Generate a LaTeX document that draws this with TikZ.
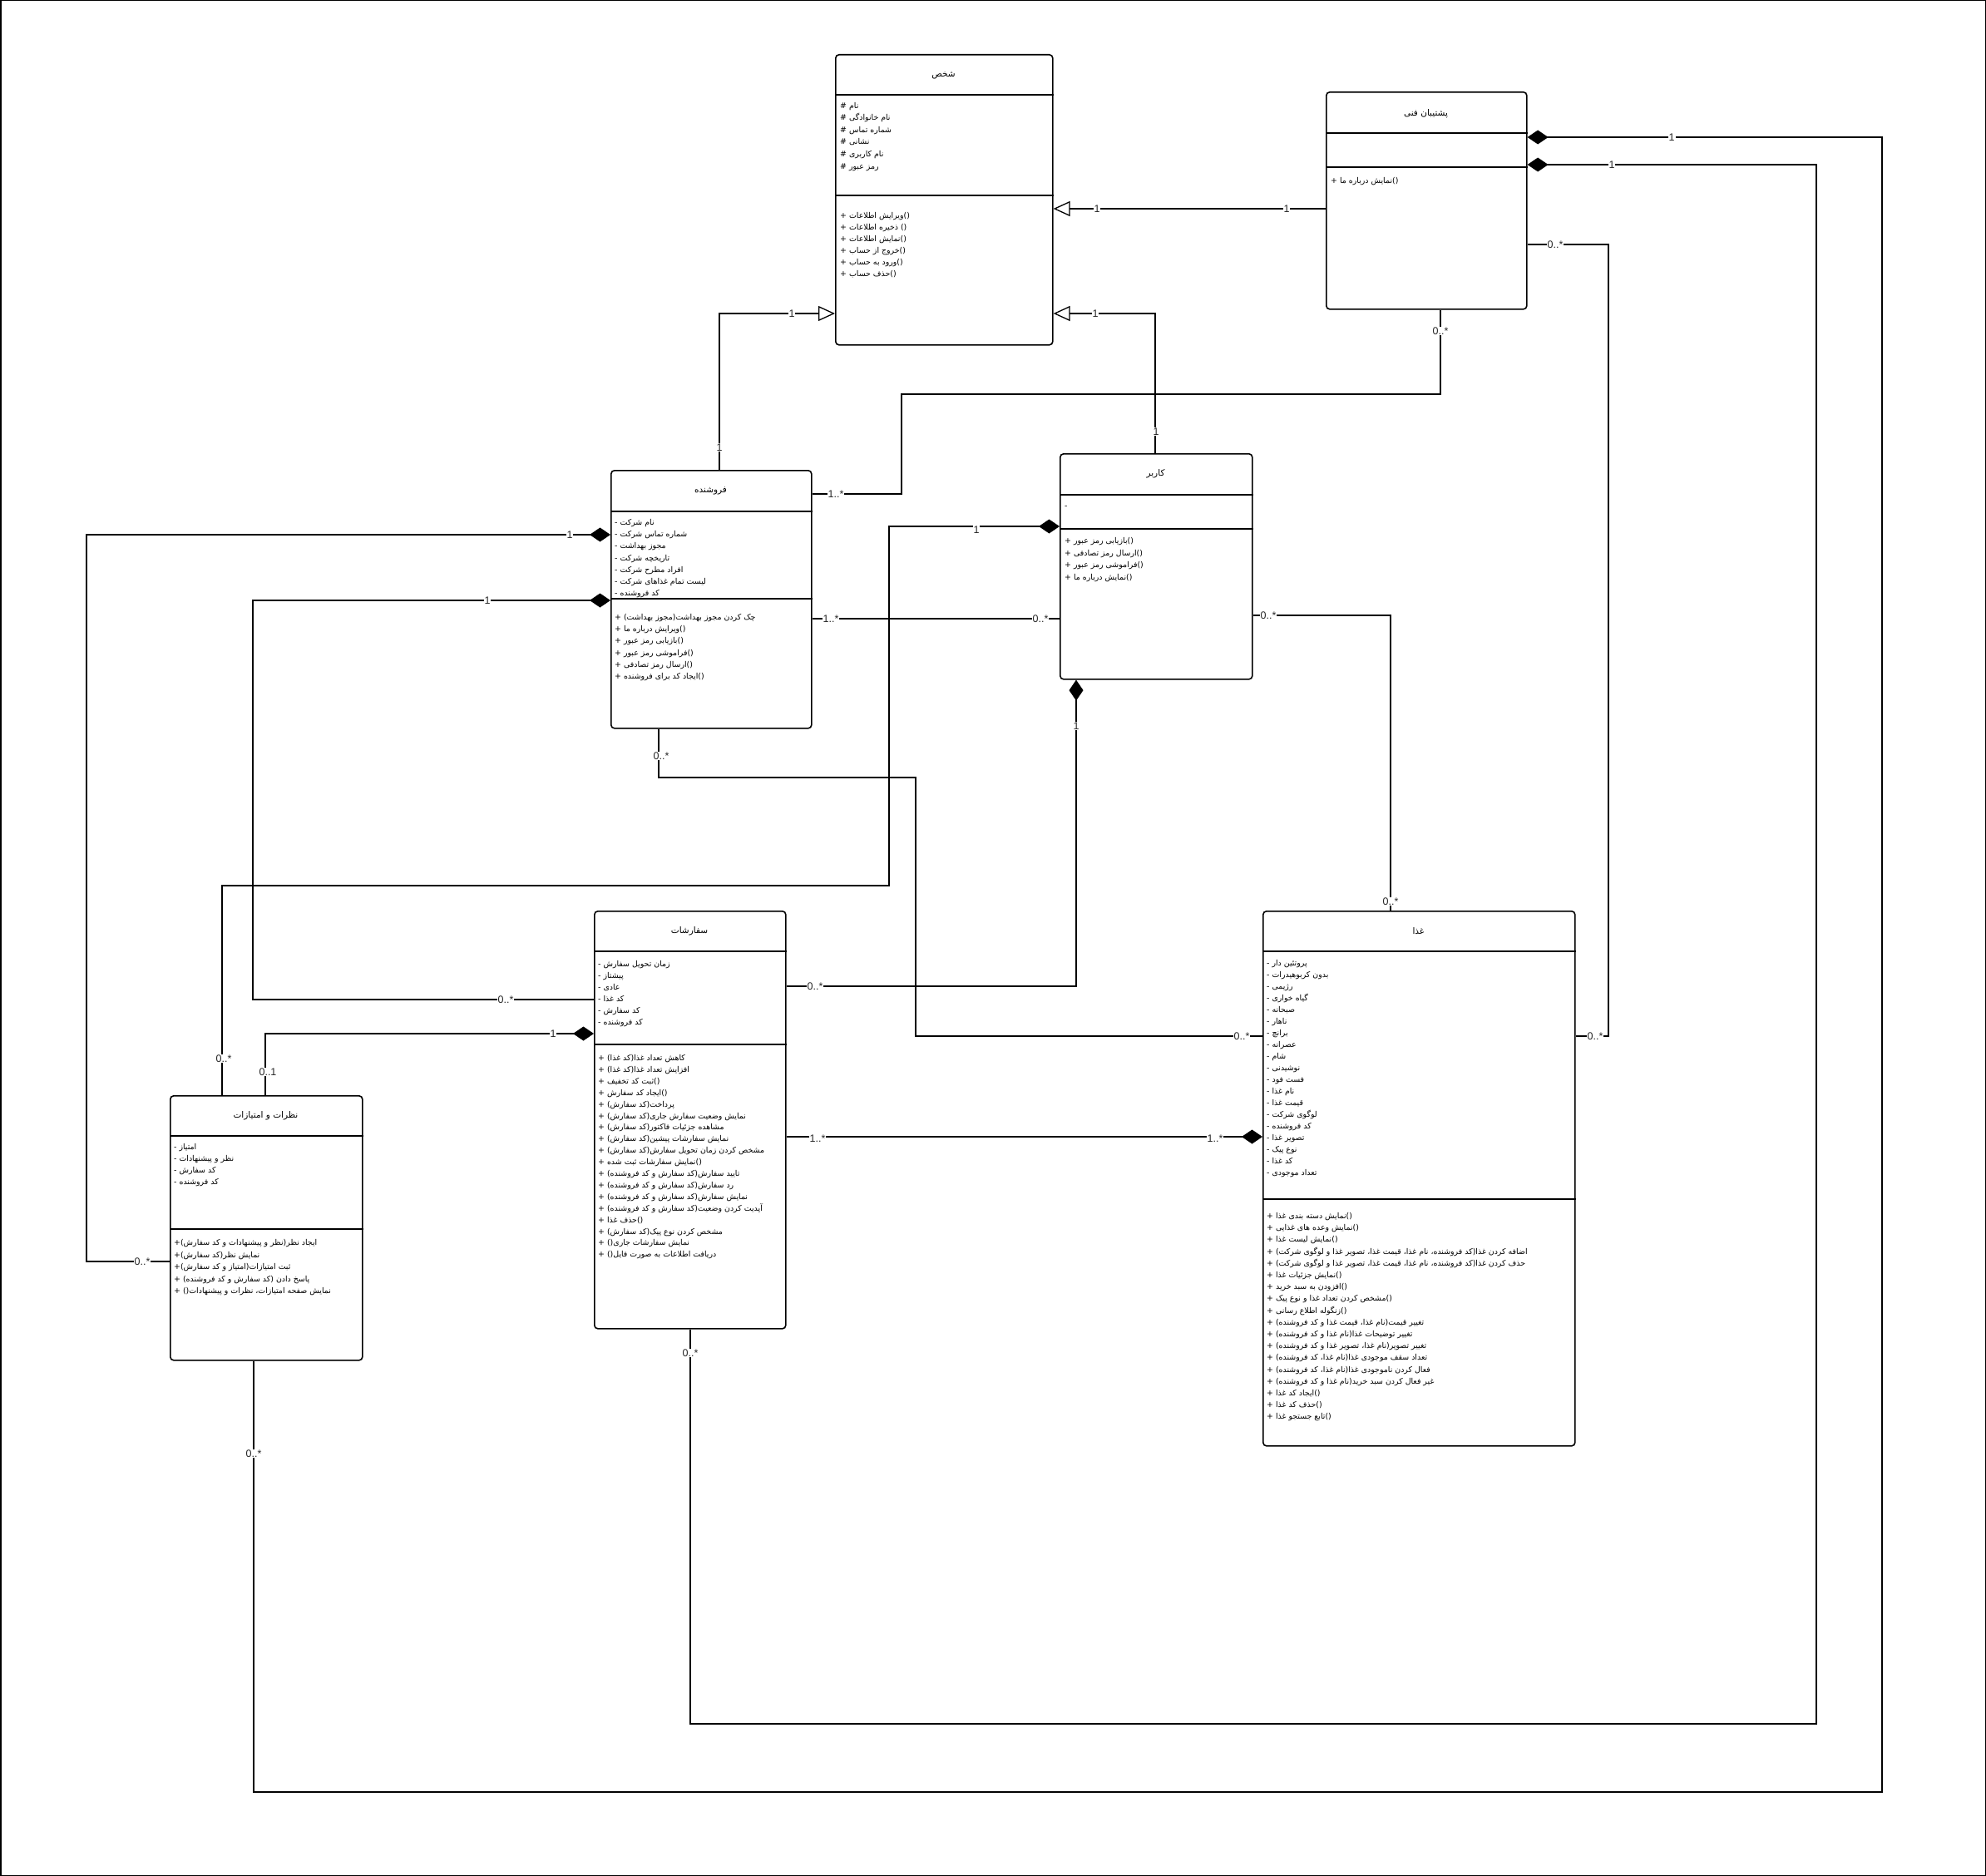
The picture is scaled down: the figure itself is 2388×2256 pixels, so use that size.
\documentclass[tikz,border=0pt]{standalone}
\usepackage{fontspec}
\setmainfont{Liberation Sans}
\newfontfamily\persianfont[Script=Arabic]{DejaVu Sans}
\TeXXeTstate=1
\usetikzlibrary{arrows.meta}
% one node per text row: name prefix, x, first y, step, rows
\newcommand\rowlist[5]{\foreach \txt [count=\i] in {#5}{\node[row] (#1-\i) at (#2,{#3+(\i-1)*(#4)}) {\txt};}}
\tikzset{
  classbox/.style={draw, line width=1.6pt, rounded corners=4pt, inner sep=0pt, anchor=north west},
  sepline/.style={line width=1.6pt},
  title/.style={font=\persianfont\fontsize{10.5}{12}\selectfont, inner sep=0pt},
  row/.style={font=\persianfont\fontsize{9.4}{11}\selectfont, anchor=west, inner sep=0pt, text height=7pt, text depth=2pt},
  assoc/.style={line width=1.3pt},
  comp/.style={assoc, {Diamond[length=25pt,width=17pt]}-},
  compend/.style={assoc, -{Diamond[length=25pt,width=17pt]}},
  gen/.style={assoc, -{Triangle[open, length=20pt, width=18pt, fill=white]}},
  mult/.style={font=\fontsize{12.5}{14}\selectfont, fill=white, inner sep=1pt, text=black!85},
}
\begin{document}
\begin{tikzpicture}[x=1pt,y=-1pt]
\fill[white] (0,0) rectangle (2388,2256);
\useasboundingbox (0,0) rectangle (2388,2256);
\draw[line width=1.5pt] (0.75,0.75) rectangle (2387.25,2255.25);

% ---------- classes ----------
\node[classbox, minimum width=261pt, minimum height=349pt] (person) at (1004,65) {};
\draw[sepline] (person.west |- 0,114) -- (person.east |- 0,114);
\draw[sepline] (person.west |- 0,235) -- (person.east |- 0,235);
\node[title] (t-person) at (1134.5,91) {\beginR شخص\endR};
\rowlist{pa}{1010}{128}{14.5}{\beginR نام \#\endR, \beginR نام خانوادگی \#\endR, \beginR شماره تماس \#\endR, \beginR نشانی \#\endR, \beginR نام کاربری \#\endR, \beginR رمز عبور \#\endR}
\rowlist{pm}{1010}{260}{14}{\beginR ()ویرایش اطلاعات +\endR, \beginR () ذخیره اطلاعات +\endR, \beginR ()نمایش اطلاعات +\endR, \beginR ()خروج از حساب +\endR, \beginR ()ورود به حساب +\endR, \beginR ()حذف حساب +\endR}

\node[classbox, minimum width=241pt, minimum height=261pt] (support) at (1594,110) {};
\draw[sepline] (support.west |- 0,160) -- (support.east |- 0,160);
\draw[sepline] (support.west |- 0,201) -- (support.east |- 0,201);
\node[title] (t-support) at (1714.5,137) {\beginR پشتیبان فنی\endR};
\rowlist{sm}{1600}{218}{14}{\beginR ()نمایش درباره ما +\endR}

\node[classbox, minimum width=241pt, minimum height=310pt] (seller) at (734,565) {};
\draw[sepline] (seller.west |- 0,615) -- (seller.east |- 0,615);
\node[title] (t-seller) at (854.5,590) {\beginR فروشنده\endR};
\rowlist{sa}{739}{629}{14.2}{\beginR نام شرکت -\endR, \beginR شماره تماس شرکت -\endR, \beginR مجوز بهداشت -\endR, \beginR تاریخچه شرکت -\endR, \beginR افراد مطرح شرکت -\endR, \beginR لیست تمام غذاهای شرکت -\endR, \beginR کد فروشنده -\endR}
\draw[sepline] (seller.west |- 0,720) -- (seller.east |- 0,720);
\rowlist{smm}{739}{743}{14.2}{\beginR چک کردن مجوز بهداشت(مجوز بهداشت) +\endR, \beginR ()ویرایش درباره ما +\endR, \beginR ()بازیابی رمز عبور +\endR, \beginR ()فراموشی رمز عبور +\endR, \beginR ()ارسال رمز تصادفی +\endR, \beginR ()ایجاد کد برای فروشنده +\endR}

\node[classbox, minimum width=231pt, minimum height=271pt] (user) at (1274,545) {};
\draw[sepline] (user.west |- 0,595) -- (user.east |- 0,595);
\draw[sepline] (user.west |- 0,636) -- (user.east |- 0,636);
\node[title] (t-user) at (1389.5,570) {\beginR کاربر\endR};
\node[row] (ua-1) at (1280,609) {-};
\rowlist{um}{1280}{651}{14.5}{\beginR ()بازیابی رمز عبور +\endR, \beginR ()ارسال رمز تصادفی +\endR, \beginR ()فراموشی رمز عبور +\endR, \beginR ()نمایش درباره ما +\endR}

\node[classbox, minimum width=230pt, minimum height=502pt] (orders) at (714,1095) {};
\draw[sepline] (orders.west |- 0,1144) -- (orders.east |- 0,1144);
\draw[sepline] (orders.west |- 0,1256) -- (orders.east |- 0,1256);
\node[title] (t-orders) at (829,1120) {\beginR سفارشات\endR};
\rowlist{oa}{719}{1160}{14}{\beginR زمان تحویل سفارش -\endR, \beginR پیشتاز -\endR, \beginR عادی -\endR, \beginR کد غذا -\endR, \beginR کد سفارش -\endR, \beginR کد فروشنده -\endR}
\rowlist{om}{719}{1273}{13.9}{\beginR کاهش تعداد غذا(کد غذا) +\endR, \beginR افزایش تعداد غذا(کد غذا) +\endR, \beginR ()ثبت کد تخفیف +\endR, \beginR ()ایجاد کد سفارش +\endR, \beginR پرداخت(کد سفارش) +\endR, \beginR نمایش وضعیت سفارش جاری(کد سفارش)  +\endR, \beginR مشاهده جزئیات فاکتور(کد سفارش) +\endR, \beginR نمایش سفارشات پیشین(کد سفارش) +\endR, \beginR مشخص کردن زمان تحویل سفارش(کد سفارش) +\endR, \beginR ()نمایش سفارشات ثبت شده +\endR, \beginR تایید سفارش(کد سفارش و کد فروشنده) +\endR, \beginR رد سفارش(کد سفارش و کد فروشنده) +\endR, \beginR نمایش سفارش(کد سفارش و کد فروشنده) +\endR, \beginR آپدیت کردن وضعیت(کد سفارش و کد فروشنده) +\endR, \beginR ()حذف غذا +\endR, \beginR مشخص کردن نوع پیک(کد سفارش) +\endR, \beginR نمایش سفارشات جاری() +\endR, \beginR دریافت اطلاعات به صورت فایل() +\endR}

\node[classbox, minimum width=375pt, minimum height=643pt] (food) at (1518,1095) {};
\draw[sepline] (food.west |- 0,1144) -- (food.east |- 0,1144);
\draw[sepline] (food.west |- 0,1442) -- (food.east |- 0,1442);
\node[title] (t-food) at (1705.5,1120) {\beginR غذا\endR};
\rowlist{fa}{1523}{1159}{14}{\beginR پروتئین دار -\endR, \beginR بدون کربوهیدرات -\endR, \beginR رژیمی -\endR, \beginR گیاه خواری -\endR, \beginR صبحانه -\endR, \beginR ناهار -\endR, \beginR برانچ -\endR, \beginR عصرانه -\endR, \beginR شام -\endR, \beginR نوشیدنی -\endR, \beginR فست فود -\endR, \beginR نام غذا -\endR, \beginR قیمت غذا -\endR, \beginR لوگوی شرکت -\endR, \beginR کد فروشنده -\endR, \beginR تصویر غذا -\endR, \beginR نوع پیک -\endR, \beginR کد غذا -\endR, \beginR تعداد موجودی -\endR}
\rowlist{fm}{1523}{1463}{14.2}{\beginR ()نمایش دسته بندی غذا +\endR, \beginR ()نمایش وعده های غذایی +\endR, \beginR ()نمایش لیست غذا +\endR, \beginR اضافه کردن غذا(کد فروشنده، نام غذا، قیمت غذا، تصویر غذا و لوگوی شرکت) +\endR, \beginR حذف کردن غذا(کد فروشنده، نام غذا، قیمت غذا، تصویر غذا و لوگوی شرکت) +\endR, \beginR ()نمایش جزئیات غذا +\endR, \beginR ()افزودن به سبد خرید +\endR, \beginR ()مشخص کردن تعداد غذا و نوع پیک +\endR, \beginR ()زنگوله اطلاع رسانی +\endR, \beginR تغییر قیمت(نام غذا، قیمت غذا و کد فروشنده) +\endR, \beginR تغییر توضیحات غذا(نام غذا و کد فروشنده) +\endR, \beginR تغییر تصویر(نام غذا، تصویر غذا و کد فروشنده) +\endR, \beginR تعداد سقف موجودی غذا(نام غذا، کد فروشنده) +\endR, \beginR فعال کردن ناموجودی غذا(نام غذا، کد فروشنده) +\endR, \beginR غیر فعال کردن سبد خرید(نام غذا و کد فروشنده) +\endR, \beginR ()ایجاد کد غذا +\endR, \beginR ()حذف کد غذا +\endR, \beginR ()تابع جستجو غذا +\endR}

\node[classbox, minimum width=231pt, minimum height=318pt] (feedback) at (204,1317) {};
\draw[sepline] (feedback.west |- 0,1366) -- (feedback.east |- 0,1366);
\draw[sepline] (feedback.west |- 0,1478) -- (feedback.east |- 0,1478);
\node[title] (t-feedback) at (319.5,1342) {\beginR نظرات و امتیازات\endR};
\rowlist{ra}{209}{1380}{14}{\beginR امتیاز -\endR, \beginR نظر و پیشنهادات -\endR, \beginR کد سفارش -\endR, \beginR کد فروشنده -\endR}
\rowlist{rm}{209}{1495}{14.5}{\beginR ایجاد نظر(نظر و پیشنهادات و کد سفارش)+\endR, \beginR نمایش نظر(کد سفارش)+\endR, \beginR ثبت امتیازات(امتیاز و کد سفارش)+\endR, \beginR پاسخ دادن (کد سفارش و کد فروشنده) +\endR, \beginR نمایش صفحه امتیازات، نظرات و پیشنهادات() +\endR}

% ---------- generalizations ----------
\draw[gen] (support.west |- 0,251) -- (person.east |- 0,251);
\draw[gen] (seller.north -| 865,0) |- (person.west |- 0,377);
\draw[gen] (user.north -| 1389,0) |- (person.east |- 0,377);

% ---------- associations ----------
\draw[assoc] (support.south -| 1732,0) |- (1084,474) |- (seller.east |- 0,594);
\draw[assoc] (seller.east |- 0,744) -- (user.west |- 0,744);
\draw[assoc] (user.east |- 0,740) -| (food.north -| 1672,0);
\draw[assoc] (support.east |- 0,294) -| (1934,1246) -- (food.east |- 0,1246);
\draw[assoc] (seller.south -| 792,0) |- (1101,935) |- (food.west |- 0,1246);

% ---------- compositions ----------
\draw[comp] (support.east |- 0,165) -- (2263,165) |- (305,2155) -- (feedback.south -| 305,0);
\draw[comp] (support.east |- 0,198) -- (2184,198) |- (830,2073) -- (orders.south -| 830,0);
\draw[comp] (seller.west |- 0,643) -- (104,643) |- (feedback.west |- 0,1517);
\draw[comp] (seller.west |- 0,722) -- (304,722) |- (orders.west |- 0,1202);
\draw[comp] (user.west |- 0,633) -| (1069,1065) -| (feedback.north -| 267,0);
\draw[comp] (user.south -| 1294,0) |- (orders.east |- 0,1186);
\draw[compend] (feedback.north -| 319,0) |- (orders.west |- 0,1243);
\draw[compend] (orders.east |- 0,1367) -- (food.west |- 0,1367);

% ---------- multiplicities ----------
\node[mult] (m1) at (1319,251) {1};
\node[mult] (m2) at (1547,251) {1};
\node[mult] (m3) at (865,538) {1};
\node[mult] (m4) at (952,377) {1};
\node[mult] (m5) at (1317,377) {1};
\node[mult] (m6) at (1390,519) {1};
\node[mult] (m7) at (1732,398) {0..*};
\node[mult] (m8) at (1005,594) {1..*};
\node[mult] (m9) at (999,744) {1..*};
\node[mult] (m10) at (1251,744) {0..*};
\node[mult] (m11) at (1525,740) {0..*};
\node[mult] (m12) at (1672,1084) {0..*};
\node[mult] (m13) at (2010,165) {1};
\node[mult] (m14) at (305,1748) {0..*};
\node[mult] (m15) at (1938,198) {1};
\node[mult] (m16) at (830,1627) {0..*};
\node[mult] (m17) at (1870,294) {0..*};
\node[mult] (m18) at (1918,1246) {0..*};
\node[mult] (m19) at (685,643) {1};
\node[mult] (m20) at (171,1517) {0..*};
\node[mult] (m21) at (586,722) {1};
\node[mult] (m22) at (608,1202) {0..*};
\node[mult] (m23) at (1174,637) {1};
\node[mult] (m24) at (269,1273) {0..*};
\node[mult] (m25) at (1294,873) {1};
\node[mult] (m26) at (980,1186) {0..*};
\node[mult] (m27) at (322,1289) {0..1};
\node[mult] (m28) at (665,1243) {1};
\node[mult] (m29) at (795,909) {0..*};
\node[mult] (m30) at (1493,1246) {0..*};
\node[mult] (m31) at (983,1369) {1..*};
\node[mult] (m32) at (1461,1369) {1..*};
\end{tikzpicture}
\end{document}
